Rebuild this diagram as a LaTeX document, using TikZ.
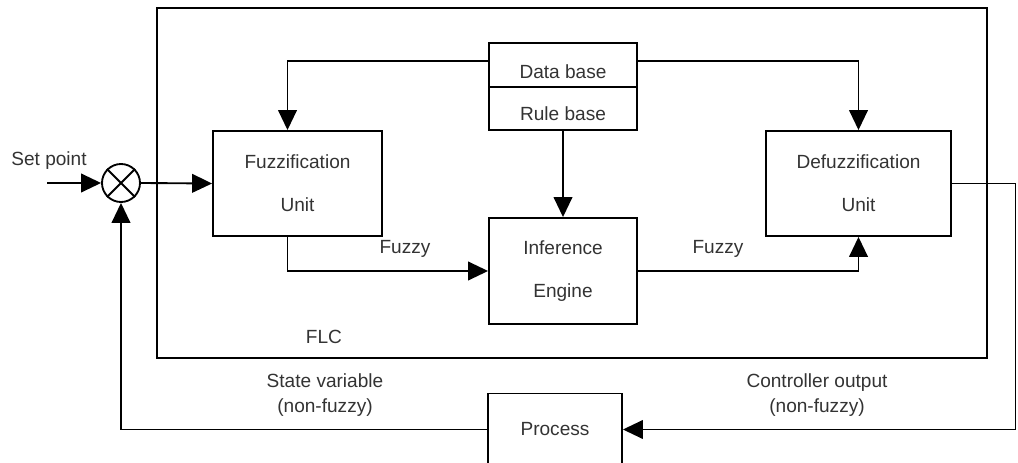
\documentclass[tikz,border=0pt]{standalone}
\usepackage{fontspec}
\setmainfont{Liberation Sans}
\usetikzlibrary{arrows.meta}

\begin{document}
\begin{tikzpicture}[x=0.75pt, y=-0.75pt, >={Triangle[length=15pt,width=14pt]}, line width=1.4pt,
		every node/.style={font=\fontsize{14.3}{19}\selectfont, text=black!80},
		block/.style={draw=black, font=\fontsize{14.3}{32}\selectfont, align=center, inner sep=0pt}]
		
		\useasboundingbox (0,0) rectangle (1018,463);
		
		% Draw FLC frame
		\node[draw, minimum width=622.5pt, minimum height=262.5pt] (flc) at (572,183) {};
		
		% Draw blocks
		\node[block, minimum width=126.75pt, minimum height=78.75pt] (fuzz) at (297.5,183.5) {Fuzzification\\Unit};
		\node[block, minimum width=138.75pt, minimum height=78.75pt] (defuzz) at (858.5,183.5) {Defuzzification\\Unit};
		\node[block, minimum width=111pt, minimum height=79.5pt] (inf) at (563,271) {Inference\\Engine};
		\node[block, minimum width=111pt, minimum height=33pt, text height=20pt] (data) at (563,65) {Data base};
		\node[block, minimum width=111pt, minimum height=32.25pt, text height=18pt] (rule) at (563,108.5) {Rule base};
		\node[block, minimum width=100.5pt, minimum height=54pt] (process) at (555,429.5) {Process};
		
		% Summing junction
		\node[draw, circle, minimum size=28.5pt, inner sep=0pt] (sum) at (121,183) {};
		\draw (sum.north west) -- (sum.south east) (sum.north east) -- (sum.south west);
		
		% Free ends
		\coordinate (sp) at (47,183);
		\coordinate (outc) at (1015.5,429.5);
		
		% Draw connectors
		\draw[->] (sp) -- (sum.west);
		\draw[->] (sum.east) -- (fuzz.west);
		\draw[->] ([yshift=3pt]data.west) -| ([xshift=-7.5pt]fuzz.north);
		\draw[->] ([yshift=3pt]data.east) -| (defuzz.north);
		\draw[->] (rule.south) -- (inf.north);
		\draw[->] ([xshift=-7.5pt]fuzz.south) |- (inf.west);
		\draw[->] (inf.east) -| (defuzz.south);
		\draw[->] (defuzz.east) -| (outc) -- (process.east);
		\draw[->] (process.west) -| (sum.south);
		
		% Add labels
		\node (setpt) at (49,161) {Set point};
		\node (fuzzyin) at (405,249) {Fuzzy};
		\node (fuzzyout) at (718,249) {Fuzzy};
		\node (flclabel) at (324,337) {FLC};
		\node[align=center] (state) at (325,395) {State variable\\(non-fuzzy)};
		\node[align=center] (ctrl) at (817,395) {Controller output\\(non-fuzzy)};
		
	\end{tikzpicture}
\end{document}
